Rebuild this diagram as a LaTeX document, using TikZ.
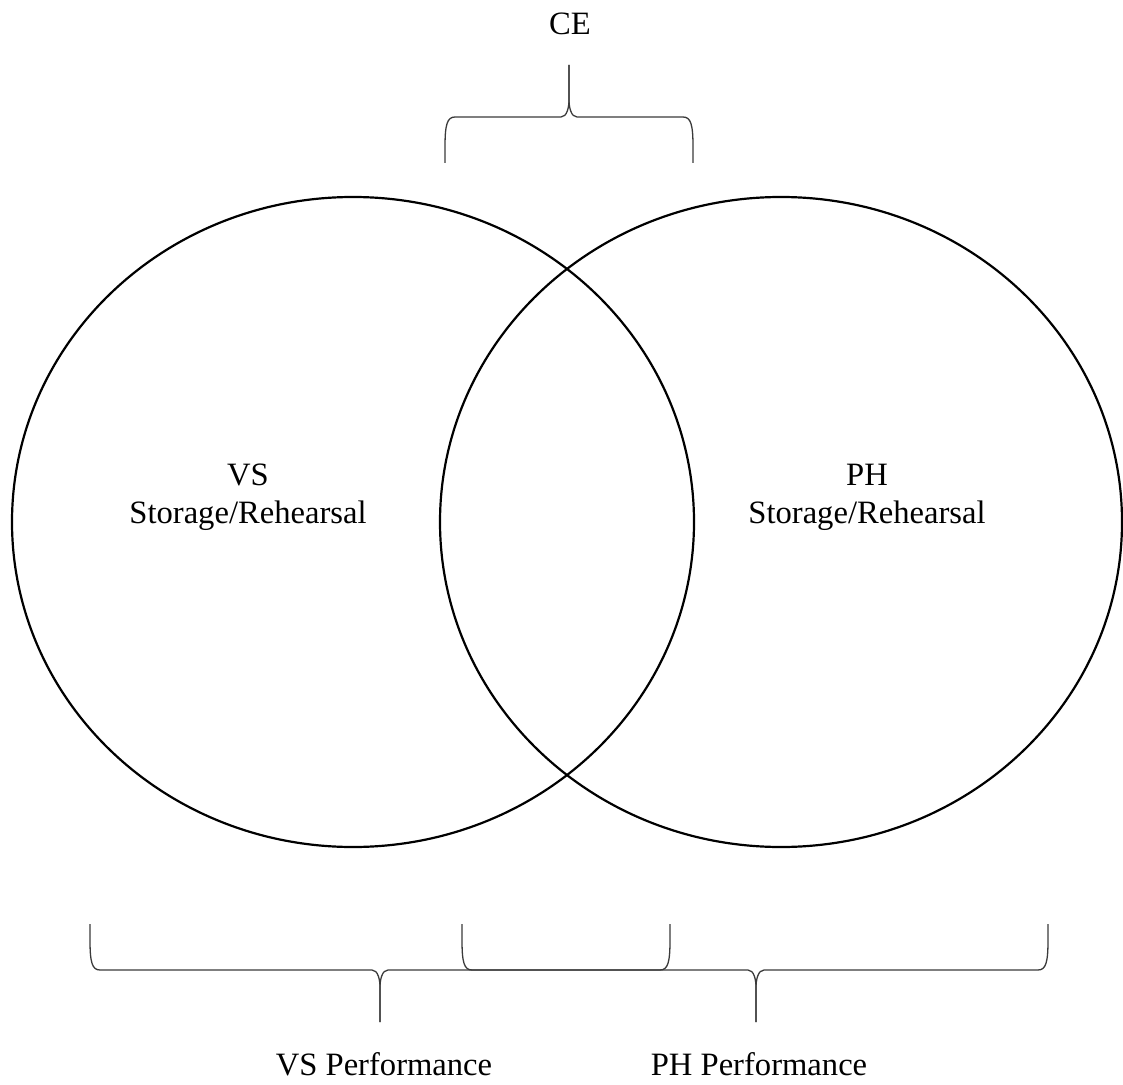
\documentclass[tikz,border=0pt]{standalone}
\usepackage{fontspec}
\setmainfont{Liberation Serif}
\usepackage{tikz}
\usetikzlibrary{calc}
\definecolor{ink}{HTML}{000000}
\definecolor{brc}{HTML}{3A3A3A}
\tikzset{
  ring/.style={draw=ink, line width=1.1pt},
  brace/.style={draw=brc, line width=0.65pt, line join=round},
  lab/.style={text=ink, font=\fontsize{16.3}{19}\selectfont, inner sep=0pt, align=center},
}

\begin{document}
\begin{tikzpicture}[x=0.5pt,y=-0.5pt]
  \useasboundingbox (0,0) rectangle (1123,1085);
  \coordinate (VS) at (353,522);
  \coordinate (PH) at (781,522);
  \draw[ring] (VS) ellipse [x radius=170.5pt, y radius=162.5pt];
  \draw[ring] (PH) ellipse [x radius=170.5pt, y radius=162.5pt];
  % braces: left end, right end, middle, tip
  \coordinate (ceL) at (445,163);
  \coordinate (ceR) at (693,163);
  \coordinate (ceM) at (569,117);
  \coordinate (ceT) at (569,65);
  \coordinate (vsL) at (90,924);
  \coordinate (vsR) at (670,924);
  \coordinate (vsM) at (380,970);
  \coordinate (vsT) at (380,1022);
  \coordinate (phL) at (462,924);
  \coordinate (phR) at (1048,924);
  \coordinate (phM) at (756,970);
  \coordinate (phT) at (756,1022);
  \foreach \B/\s in {ce/-1,vs/1,ph/1}{
    \draw[brace] (\B L) -- ++(0,\s*16) .. controls +(0,\s*22) and +(-8,0) .. ++(10,\s*30)
      -- ($(\B M)+(-8,0)$) .. controls +(6,0) and +(0,-\s*7) .. ++(8,\s*17) -- (\B T);
    \draw[brace] (\B R) -- ++(0,\s*16) .. controls +(0,\s*22) and +(8,0) .. ++(-10,\s*30)
      -- ($(\B M)+(8,0)$) .. controls +(-6,0) and +(0,-\s*7) .. ++(-8,\s*17) -- (\B T);
  }
  \node[lab] (vslab) at (248,497) {VS\\Storage/Rehearsal};
  \node[lab] (phlab) at (867,497) {PH\\Storage/Rehearsal};
  \node[lab] (celab) at (570,24) {CE};
  \node[lab] (vsperf) at (384,1064) {VS Performance};
  \node[lab] (phperf) at (759,1064) {PH Performance};
\end{tikzpicture}
\end{document}
